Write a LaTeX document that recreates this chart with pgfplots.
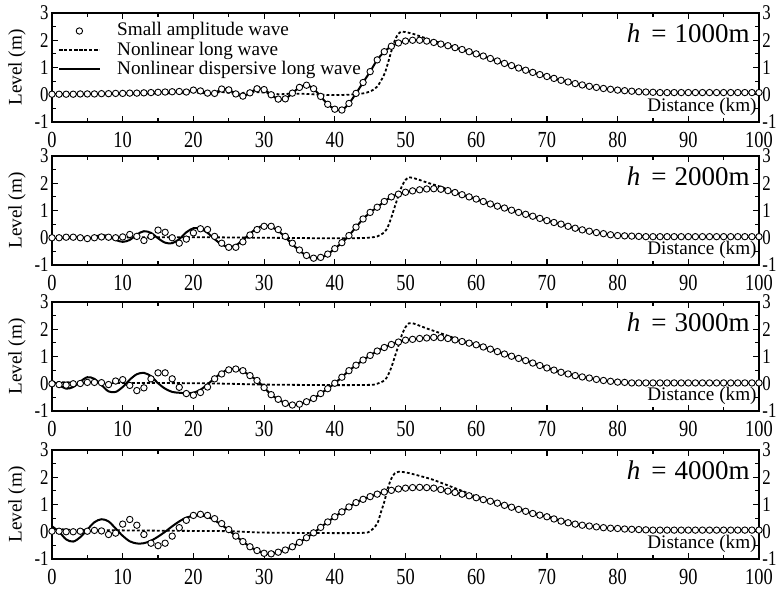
\documentclass[border=0pt]{standalone}
\usepackage{fontspec}
\setmainfont{Liberation Serif}
\newfontfamily\tickfont{Liberation Serif}[FakeStretch=0.8]
\usepackage{pgfplots}
\usepackage{pgfplotstable}
\pgfplotsset{compat=1.18}

\newcommand\labfs{\fontsize{9.6pt}{10pt}\selectfont}
\newcommand\ytickfs{\tickfont\fontsize{10.5pt}{11pt}\selectfont}
\newcommand\xtickfs{\tickfont\fontsize{11.5pt}{12pt}\selectfont}
\newcommand\hfs{\fontsize{13.5pt}{14pt}\selectfont}

% ---- h = 1000 m : x (km), c = small amplitude, s = dispersive ----
\pgfplotstableread[row sep=\\]{
x c s\\
0 0.02 0.02\\ 1 0.02 0.02\\ 2 0.02 0.02\\ 3 0.02 0.02\\ 4 0.03 0.03\\
5 0.03 0.03\\ 6 0.03 0.03\\ 7 0.04 0.04\\ 8 0.04 0.04\\ 9 0.05 0.05\\
10 0.05 0.05\\ 11 0.06 0.06\\ 12 0.06 0.06\\ 13 0.07 0.07\\ 14 0.08 0.08\\
15 0.09 0.09\\ 16 0.10 0.10\\ 17 0.11 0.11\\ 18 0.12 0.12\\ 19 0.10 0.10\\
20 0.17 0.17\\ 21 0.14 0.14\\ 22 0.06 0.06\\ 23 0.05 0.05\\ 24 0.21 0.21\\
25 0.18 0.18\\ 26 0.03 0.03\\ 27 -0.05 -0.05\\ 28 0.07 0.07\\ 29 0.22 0.22\\
30 0.19 0.19\\ 31 0.00 0.00\\ 32 -0.16 -0.16\\ 33 -0.15 -0.15\\ 34 0.06 0.06\\
35 0.27 0.27\\ 36 0.35 0.35\\ 37 0.22 0.22\\ 38 -0.06 -0.06\\ 39 -0.35 -0.35\\
40 -0.53 -0.53\\ 41 -0.56 -0.56\\ 42 -0.32 -0.32\\ 43 0.05 0.05\\ 44 0.45 0.45\\
45 0.85 0.85\\ 46 1.28 1.28\\ 47 1.58 1.58\\ 48 1.78 1.78\\ 49 1.90 1.90\\
50 1.97 1.97\\ 51 2.00 2.00\\ 52 2.00 2.00\\ 53 1.97 1.97\\ 54 1.92 1.92\\
55 1.86 1.86\\ 56 1.80 1.80\\ 57 1.73 1.73\\ 58 1.66 1.66\\ 59 1.58 1.58\\
60 1.50 1.50\\ 61 1.42 1.42\\ 62 1.33 1.33\\ 63 1.24 1.24\\ 64 1.15 1.15\\
65 1.07 1.07\\ 66 0.98 0.98\\ 67 0.90 0.90\\ 68 0.82 0.82\\ 69 0.74 0.74\\
70 0.67 0.67\\ 71 0.60 0.60\\ 72 0.53 0.53\\ 73 0.47 0.47\\ 74 0.41 0.41\\
75 0.36 0.36\\ 76 0.31 0.31\\ 77 0.27 0.27\\ 78 0.23 0.23\\ 79 0.20 0.20\\
80 0.17 0.17\\ 81 0.15 0.15\\ 82 0.13 0.13\\ 83 0.11 0.11\\ 84 0.10 0.10\\
85 0.09 0.09\\ 86 0.08 0.08\\ 87 0.08 0.08\\ 88 0.08 0.08\\ 89 0.08 0.08\\
90 0.08 0.08\\ 91 0.08 0.08\\ 92 0.08 0.08\\ 93 0.08 0.08\\ 94 0.08 0.08\\
95 0.08 0.08\\ 96 0.08 0.08\\ 97 0.08 0.08\\ 98 0.08 0.08\\ 99 0.08 0.08\\
100 0.08 0.08\\
}\wavA
\pgfplotstableread[row sep=\\]{
x y\\
0 0.02\\ 5 0.02\\ 10 0.03\\ 15 0.05\\ 18 0.07\\ 20 0.09\\ 22 0.05\\ 24 0.10\\
26 0.04\\ 28 0.10\\ 30 0.08\\ 32 0.02\\ 34 0.04\\ 36 0.03\\ 38 0.00\\ 40 -0.01\\
42 0.00\\ 43 0.02\\ 44 0.05\\ 45 0.12\\ 46 0.30\\ 47 0.75\\ 47.5 1.15\\ 48 1.60\\
48.5 2.00\\ 49 2.24\\ 49.5 2.32\\ 50 2.30\\ 51 2.24\\ 52 2.15\\ 53 2.06\\ 54 1.97\\
55 1.90\\ 56 1.82\\ 57 1.74\\ 58 1.66\\ 60 1.50\\ 62 1.33\\ 64 1.15\\ 66 0.98\\
68 0.82\\ 70 0.67\\ 72 0.53\\ 74 0.41\\ 76 0.31\\ 78 0.23\\ 80 0.17\\ 82 0.13\\
84 0.10\\ 86 0.08\\ 90 0.08\\ 95 0.08\\ 100 0.08\\
}\lngA

% ---- h = 2000 m ----
\pgfplotstableread[row sep=\\]{
x c s\\
0 0.00 0.00\\ 1 0.00 0.00\\ 2 0.02 0.02\\ 3 0.02 0.03\\ 4 0.00 0.02\\
5 -0.03 -0.02\\ 6 0.00 0.03\\ 7 0.03 0.10\\ 8 0.02 0.05\\ 9 0.00 -0.08\\
10 0.03 -0.15\\ 11 0.12 -0.08\\ 12 0.05 0.12\\ 13 -0.10 0.24\\ 14 0.05 0.18\\
15 0.28 -0.02\\ 16 0.20 -0.18\\ 17 0.00 -0.20\\ 18 -0.20 -0.05\\ 19 -0.05 0.20\\
20 0.18 0.35\\ 21 0.33 0.33\\ 22 0.30 0.18\\ 23 0.05 -0.05\\ 24 -0.20 -0.25\\
25 -0.35 -0.34\\ 26 -0.35 -0.28\\ 27 -0.15 -0.08\\ 28 0.10 0.15\\ 29 0.30 0.35\\
30 0.42 0.45\\ 31 0.42 0.40\\ 32 0.30 0.25\\ 33 0.05 0.02\\ 34 -0.20 -0.24\\
35 -0.45 -0.47\\ 36 -0.65 -0.66\\ 37 -0.75 -0.76\\ 38 -0.72 -0.73\\ 39 -0.60 -0.60\\
40 -0.40 -0.40\\ 41 -0.18 -0.18\\ 42 0.08 0.08\\ 43 0.39 0.39\\ 44 0.69 0.69\\
45 0.93 0.93\\ 46 1.12 1.12\\ 47 1.33 1.33\\ 48 1.50 1.50\\ 49 1.60 1.60\\
50 1.67 1.67\\ 51 1.72 1.72\\ 52 1.76 1.76\\ 53 1.79 1.79\\ 54 1.80 1.80\\
55 1.78 1.78\\ 56 1.73 1.73\\ 57 1.66 1.66\\ 58 1.58 1.58\\ 59 1.50 1.50\\
60 1.42 1.42\\ 61 1.33 1.33\\ 62 1.24 1.24\\ 63 1.16 1.16\\ 64 1.09 1.09\\
65 1.01 1.01\\ 66 0.93 0.93\\ 67 0.86 0.86\\ 68 0.79 0.79\\ 69 0.71 0.71\\
70 0.63 0.63\\ 71 0.56 0.56\\ 72 0.50 0.50\\ 73 0.42 0.42\\ 74 0.35 0.35\\
75 0.29 0.29\\ 76 0.24 0.24\\ 77 0.19 0.19\\ 78 0.15 0.15\\ 79 0.11 0.11\\
80 0.08 0.08\\ 81 0.07 0.07\\ 82 0.06 0.06\\ 83 0.05 0.05\\ 84 0.04 0.04\\
85 0.04 0.04\\ 86 0.04 0.04\\ 87 0.04 0.04\\ 88 0.04 0.04\\ 89 0.04 0.04\\
90 0.04 0.04\\ 91 0.04 0.04\\ 92 0.04 0.04\\ 93 0.04 0.04\\ 94 0.04 0.04\\
95 0.04 0.04\\ 96 0.04 0.04\\ 97 0.04 0.04\\ 98 0.04 0.04\\ 99 0.04 0.04\\
100 0.04 0.04\\
}\wavB
\pgfplotstableread[row sep=\\]{
x y\\
0 0.00\\ 10 0.01\\ 20 0.02\\ 30 0.00\\ 40 -0.02\\ 44 -0.01\\ 45 0.01\\ 46 0.05\\
47 0.20\\ 47.5 0.40\\ 48 0.75\\ 48.5 1.15\\ 49 1.55\\ 49.5 1.90\\ 50 2.12\\ 50.5 2.22\\
51 2.20\\ 52 2.12\\ 53 2.03\\ 54 1.95\\ 55 1.87\\ 56 1.77\\ 57 1.67\\ 58 1.58\\
60 1.43\\ 62 1.25\\ 64 1.09\\ 66 0.93\\ 68 0.79\\ 70 0.63\\ 72 0.50\\ 74 0.35\\
76 0.24\\ 78 0.15\\ 80 0.09\\ 82 0.06\\ 84 0.05\\ 90 0.04\\ 100 0.04\\
}\lngB

% ---- h = 3000 m ----
\pgfplotstableread[row sep=\\]{
x c s\\
0 0.00 0.10\\ 1 -0.03 -0.05\\ 2 -0.05 -0.18\\ 3 0.00 -0.12\\ 4 0.01 0.08\\
5 0.05 0.24\\ 6 0.05 0.18\\ 7 0.04 -0.05\\ 8 -0.03 -0.28\\ 9 0.10 -0.30\\
10 0.15 -0.12\\ 11 -0.06 0.15\\ 12 -0.25 0.35\\ 13 -0.15 0.40\\ 14 0.18 0.28\\
15 0.40 0.02\\ 16 0.40 -0.18\\ 17 0.18 -0.30\\ 18 -0.13 -0.33\\ 19 -0.36 -0.35\\
20 -0.42 -0.33\\ 21 -0.32 -0.22\\ 22 -0.12 -0.02\\ 23 0.18 0.20\\ 24 0.36 0.40\\
25 0.51 0.53\\ 26 0.54 0.54\\ 27 0.48 0.46\\ 28 0.30 0.30\\ 29 0.12 0.12\\
30 -0.14 -0.14\\ 31 -0.40 -0.40\\ 32 -0.57 -0.57\\ 33 -0.72 -0.72\\ 34 -0.78 -0.78\\
35 -0.75 -0.75\\ 36 -0.66 -0.66\\ 37 -0.54 -0.54\\ 38 -0.36 -0.36\\ 39 -0.18 -0.18\\
40 0.02 0.02\\ 41 0.24 0.24\\ 42 0.48 0.48\\ 43 0.68 0.68\\ 44 0.87 0.87\\
45 1.04 1.04\\ 46 1.20 1.20\\ 47 1.33 1.33\\ 48 1.44 1.44\\ 49 1.53 1.53\\
50 1.60 1.60\\ 51 1.63 1.63\\ 52 1.66 1.66\\ 53 1.68 1.68\\ 54 1.70 1.70\\
55 1.69 1.69\\ 56 1.66 1.66\\ 57 1.61 1.61\\ 58 1.55 1.55\\ 59 1.49 1.49\\
60 1.43 1.43\\ 61 1.35 1.35\\ 62 1.27 1.27\\ 63 1.18 1.18\\ 64 1.09 1.09\\
65 1.01 1.01\\ 66 0.93 0.93\\ 67 0.85 0.85\\ 68 0.76 0.76\\ 69 0.67 0.67\\
70 0.58 0.58\\ 71 0.50 0.50\\ 72 0.42 0.42\\ 73 0.36 0.36\\ 74 0.30 0.30\\
75 0.25 0.25\\ 76 0.21 0.21\\ 77 0.16 0.16\\ 78 0.12 0.12\\ 79 0.09 0.09\\
80 0.06 0.06\\ 81 0.05 0.05\\ 82 0.03 0.03\\ 83 0.03 0.03\\ 84 0.03 0.03\\
85 0.03 0.03\\ 86 0.03 0.03\\ 87 0.03 0.03\\ 88 0.03 0.03\\ 89 0.03 0.03\\
90 0.03 0.03\\ 91 0.03 0.03\\ 92 0.03 0.03\\ 93 0.03 0.03\\ 94 0.03 0.03\\
95 0.03 0.03\\ 96 0.03 0.03\\ 97 0.03 0.03\\ 98 0.03 0.03\\ 99 0.03 0.03\\
100 0.03 0.03\\
}\wavC
\pgfplotstableread[row sep=\\]{
x y\\
0 0.06\\ 5 0.04\\ 10 0.03\\ 20 0.02\\ 25 0.00\\ 30 -0.03\\ 40 -0.05\\ 45 -0.04\\
46 0.00\\ 47 0.12\\ 47.5 0.30\\ 48 0.60\\ 48.5 1.00\\ 49 1.40\\ 49.5 1.80\\ 50 2.08\\
50.5 2.22\\ 51 2.22\\ 52 2.13\\ 53 2.03\\ 54 1.94\\ 55 1.85\\ 56 1.76\\ 57 1.67\\
58 1.58\\ 60 1.45\\ 62 1.28\\ 64 1.10\\ 66 0.94\\ 68 0.77\\ 70 0.59\\ 72 0.43\\
74 0.31\\ 76 0.21\\ 78 0.12\\ 80 0.07\\ 82 0.04\\ 90 0.03\\ 100 0.03\\
}\lngC

% ---- h = 4000 m ----
\pgfplotstableread[row sep=\\]{
x c s\\
0 0.02 0.20\\ 1 0.02 0.00\\ 2 0.00 -0.28\\ 3 0.00 -0.36\\ 4 0.02 -0.20\\
5 0.02 0.08\\ 6 0.05 0.35\\ 7 0.03 0.46\\ 8 -0.10 0.38\\ 9 -0.05 0.12\\
10 0.28 -0.15\\ 11 0.45 -0.35\\ 12 0.24 -0.43\\ 13 -0.10 -0.42\\ 14 -0.42 -0.33\\
15 -0.51 -0.18\\ 16 -0.42 0.00\\ 17 -0.16 0.20\\ 18 0.15 0.38\\ 19 0.42 0.52\\
20 0.60 0.58\\ 21 0.64 0.60\\ 22 0.60 0.55\\ 23 0.48 0.42\\ 24 0.30 0.25\\
25 0.08 0.06\\ 26 -0.16 -0.16\\ 27 -0.36 -0.36\\ 28 -0.55 -0.55\\ 29 -0.69 -0.69\\
30 -0.79 -0.79\\ 31 -0.81 -0.81\\ 32 -0.75 -0.75\\ 33 -0.67 -0.67\\ 34 -0.55 -0.55\\
35 -0.39 -0.39\\ 36 -0.22 -0.22\\ 37 -0.04 -0.04\\ 38 0.16 0.16\\ 39 0.36 0.36\\
40 0.55 0.55\\ 41 0.73 0.73\\ 42 0.91 0.91\\ 43 1.07 1.07\\ 44 1.19 1.19\\
45 1.29 1.29\\ 46 1.38 1.38\\ 47 1.46 1.46\\ 48 1.52 1.52\\ 49 1.57 1.57\\
50 1.60 1.60\\ 51 1.62 1.62\\ 52 1.63 1.63\\ 53 1.62 1.62\\ 54 1.60 1.60\\
55 1.55 1.55\\ 56 1.49 1.49\\ 57 1.44 1.44\\ 58 1.38 1.38\\ 59 1.32 1.32\\
60 1.25 1.25\\ 61 1.18 1.18\\ 62 1.12 1.12\\ 63 1.05 1.05\\ 64 0.97 0.97\\
65 0.90 0.90\\ 66 0.82 0.82\\ 67 0.75 0.75\\ 68 0.67 0.67\\ 69 0.61 0.61\\
70 0.55 0.55\\ 71 0.47 0.47\\ 72 0.39 0.39\\ 73 0.33 0.33\\ 74 0.28 0.28\\
75 0.24 0.24\\ 76 0.21 0.21\\ 77 0.18 0.18\\ 78 0.15 0.15\\ 79 0.13 0.13\\
80 0.12 0.12\\ 81 0.10 0.10\\ 82 0.09 0.09\\ 83 0.08 0.08\\ 84 0.07 0.07\\
85 0.06 0.06\\ 86 0.06 0.06\\ 87 0.06 0.06\\ 88 0.06 0.06\\ 89 0.06 0.06\\
90 0.06 0.06\\ 91 0.06 0.06\\ 92 0.06 0.06\\ 93 0.06 0.06\\ 94 0.06 0.06\\
95 0.06 0.06\\ 96 0.06 0.06\\ 97 0.06 0.06\\ 98 0.06 0.06\\ 99 0.06 0.06\\
100 0.06 0.06\\
}\wavD
\pgfplotstableread[row sep=\\]{
x y\\
0 0.12\\ 2 0.08\\ 5 0.06\\ 10 0.05\\ 20 0.03\\ 25 0.02\\ 30 -0.03\\ 40 -0.05\\
44 -0.04\\ 45 0.02\\ 46 0.30\\ 46.5 0.70\\ 47 1.10\\ 47.5 1.60\\ 48 1.95\\ 48.5 2.15\\
49 2.20\\ 50 2.18\\ 51 2.12\\ 52 2.05\\ 53 1.98\\ 54 1.90\\ 55 1.80\\ 56 1.70\\
57 1.60\\ 58 1.50\\ 60 1.30\\ 62 1.15\\ 64 1.00\\ 66 0.85\\ 68 0.70\\ 70 0.57\\
72 0.42\\ 74 0.30\\ 76 0.22\\ 78 0.16\\ 80 0.12\\ 85 0.07\\ 90 0.06\\ 100 0.06\\
}\lngD

\pgfplotsset{
  panelgrid/.style={
    at={(26pt,#1)}, anchor=south west,
    scale only axis, width=353.5pt, height=54.5pt,
    xmin=0, xmax=100, ymin=-1, ymax=3,
    xtick={0,10,...,100},
    xticklabels={0,10,20,30,40,50,60,70,80,90,100},
    ytick={-1,0,1,2,3}, yticklabels={-1,0,1,2,3},
    minor x tick num=1, minor y tick num=1,
    major tick length=3pt, minor tick length=1.8pt,
    tick style={black, line width=0.6pt},
    yticklabel style={font=\ytickfs, inner sep=1.5pt},
    xticklabel style={font=\xtickfs, inner sep=0pt, yshift=-5pt},
  },
  panel/.style={
    panelgrid=#1,
    axis line style={line width=0.8pt},
    clip=false,
    xlabel={Distance (km)},
    xlabel style={at={(axis description cs:1,0)}, anchor=south east,
      font=\labfs, inner sep=0pt, xshift=-1pt, yshift=3pt},
    ylabel={Level (m)},
    ylabel style={at={(axis description cs:-0.0495,0.5)}, anchor=center, font=\labfs},
  },
  rightlabels/.style={
    panelgrid=#1,
    hide x axis, axis y line*=right,
    y axis line style={draw=none}, ytick style={draw=none},
    minor y tick num=0,
  },
  small amp/.style={only marks, mark=*, mark size=1.6pt,
    mark options={fill=white, draw=black, line width=0.45pt}},
  long wave/.style={black, line width=0.9pt, dash pattern=on 1.4pt off 1.1pt, smooth},
  disp wave/.style={black, line width=1pt, smooth},
}

\newcommand\depthlabel[1]{%
  \node[anchor=east, inner sep=0pt, font=\hfs] at (axis description cs:1,0.81)
    [xshift=-4.5pt] {\textit{h}\hspace{0.4em}=\hspace{0.3em}#1m};}

\begin{document}
\begin{tikzpicture}
% h = 1000 m, with the legend
\begin{axis}[panel=234.5pt,
  legend style={at={(axis description cs:0,1)}, anchor=north west,
    xshift=3pt, yshift=-4pt, draw=none, fill=none, inner sep=0pt,
    font=\labfs, row sep=0pt, column sep=8pt,
    nodes={inner sep=0.4pt, text height=0.68em, text depth=0.2em}},
  legend cell align=left,
  legend image code/.code={\draw[mark repeat=2, mark phase=2, #1]
    plot coordinates {(0pt,0pt) (10pt,0pt) (20pt,0pt)};},
]
\addplot[small amp] table[x=x, y=c] {\wavA};
\addlegendentry{Small amplitude wave}
\addplot[long wave] table[x=x, y=y] {\lngA};
\addlegendentry{Nonlinear long wave}
\addplot[disp wave] table[x=x, y=s] {\wavA};
\addlegendentry{Nonlinear dispersive long wave}
\depthlabel{1000}
\end{axis}
\begin{axis}[rightlabels=234.5pt]\end{axis}

% h = 2000 m
\begin{axis}[panel=163pt]
\addplot[small amp] table[x=x, y=c] {\wavB};
\addplot[long wave] table[x=x, y=y] {\lngB};
\addplot[disp wave] table[x=x, y=s] {\wavB};
\depthlabel{2000}
\end{axis}
\begin{axis}[rightlabels=163pt]\end{axis}

% h = 3000 m
\begin{axis}[panel=90pt]
\addplot[small amp] table[x=x, y=c] {\wavC};
\addplot[long wave] table[x=x, y=y] {\lngC};
\addplot[disp wave] table[x=x, y=s] {\wavC};
\depthlabel{3000}
\end{axis}
\begin{axis}[rightlabels=90pt]\end{axis}

% h = 4000 m
\begin{axis}[panel=16pt]
\addplot[small amp] table[x=x, y=c] {\wavD};
\addplot[long wave] table[x=x, y=y] {\lngD};
\addplot[disp wave] table[x=x, y=s] {\wavD};
\depthlabel{4000}
\end{axis}
\begin{axis}[rightlabels=16pt]\end{axis}

\pgfresetboundingbox
\path[use as bounding box] (0,0) rectangle (388.5pt,295.5pt);
\end{tikzpicture}
\end{document}
